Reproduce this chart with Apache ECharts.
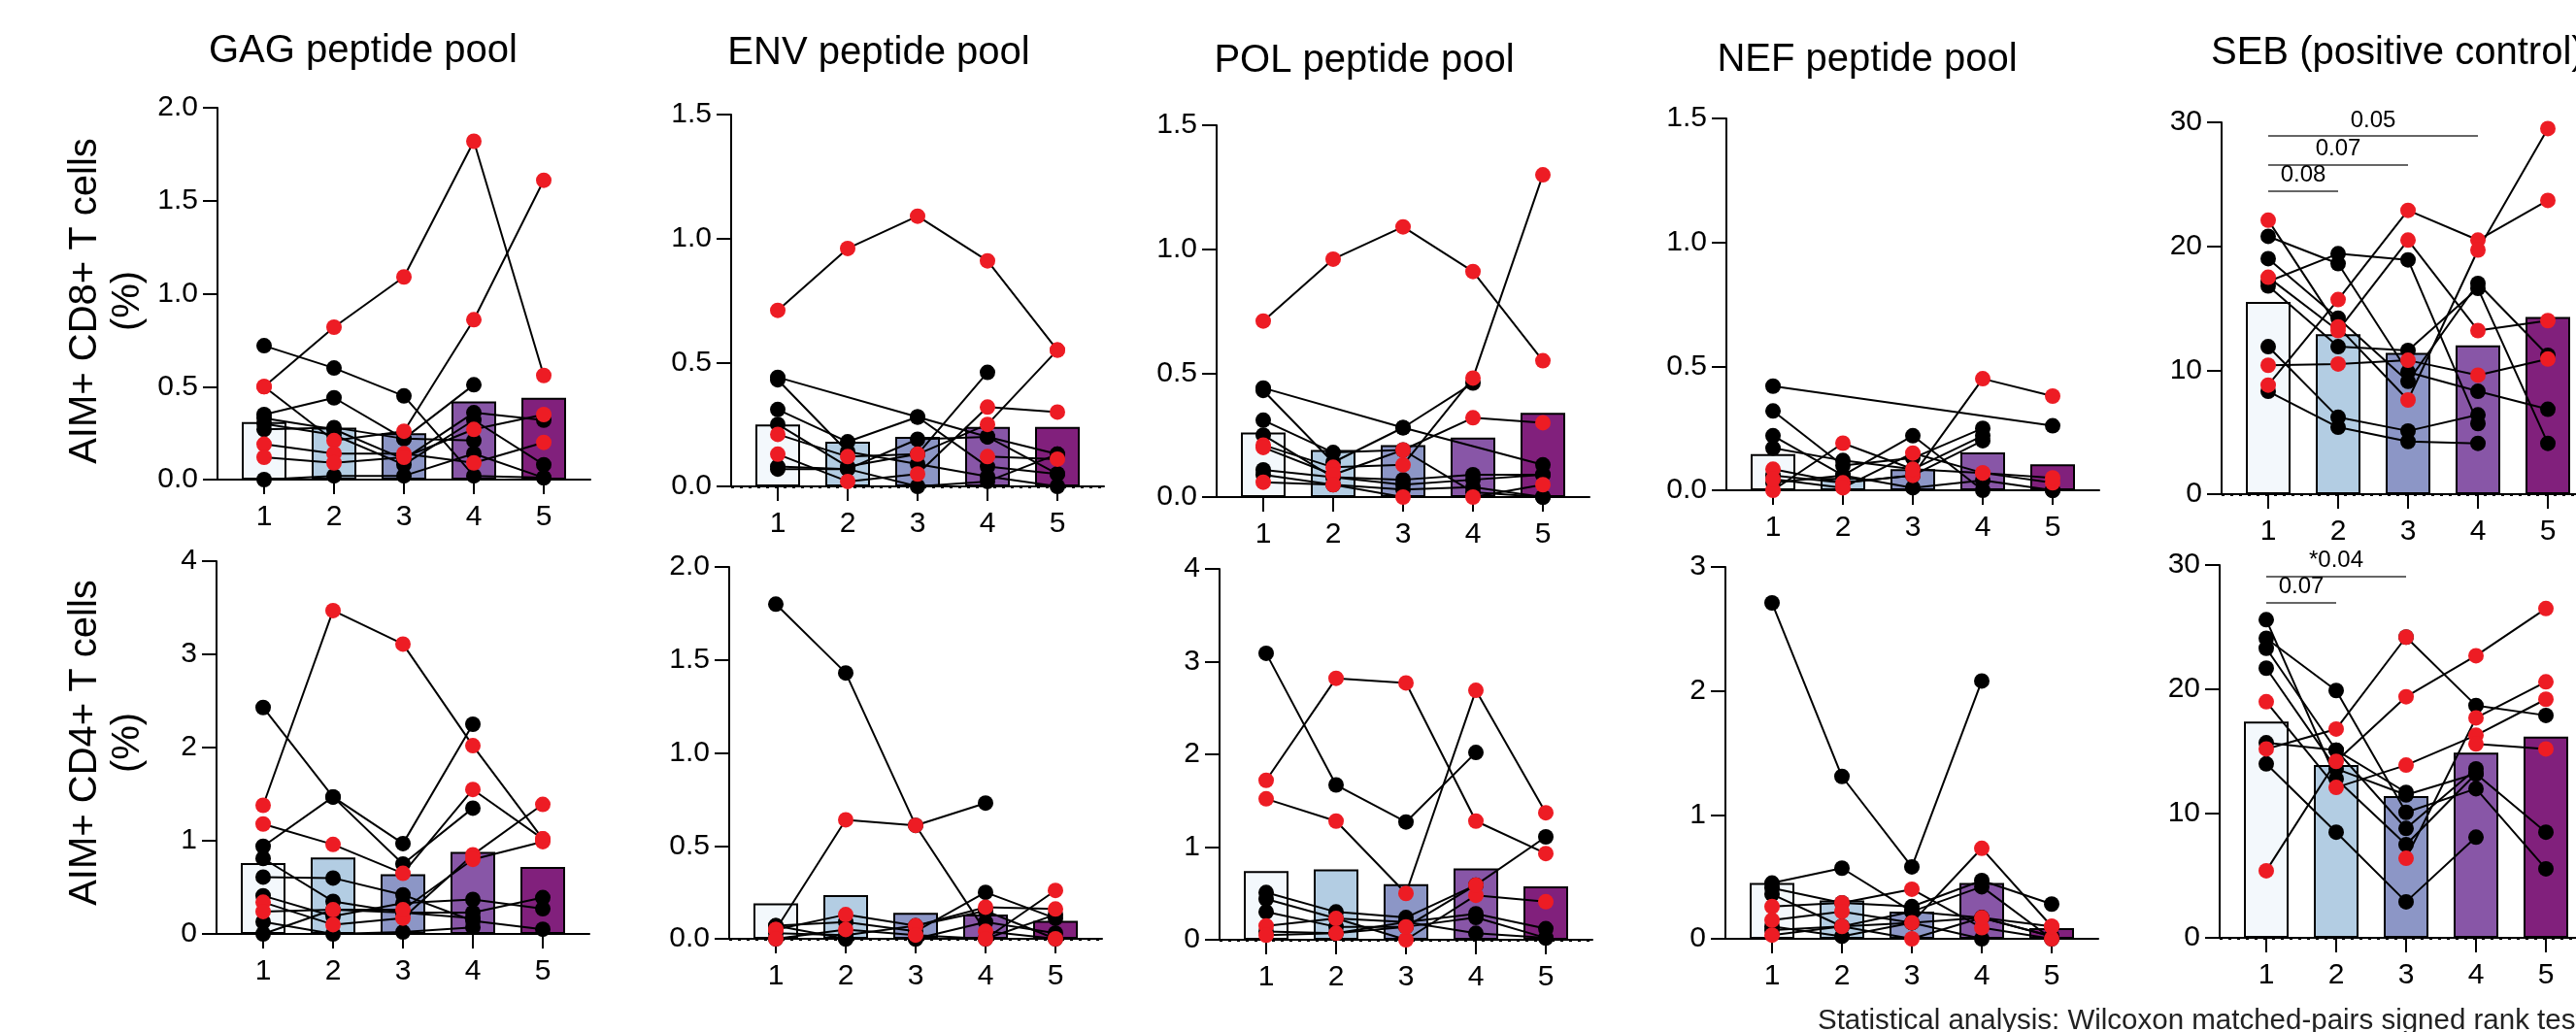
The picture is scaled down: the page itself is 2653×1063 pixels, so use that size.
<!DOCTYPE html>
<html>
<head>
<meta charset="utf-8">
<title>AIM+ T cells by peptide pool</title>
<script src="https://cdn.jsdelivr.net/npm/echarts@6/dist/echarts.min.js"></script>
<style>
  html, body { margin: 0; padding: 0; background: #fff; }
  #chart { width: 2653px; height: 1063px; }
</style>
</head>
<body>
<div id="chart"></div>
<script>
// ---- data ----
const categories = [1, 2, 3, 4, 5];
const panelTitles = ['GAG peptide pool', 'ENV peptide pool', 'POL peptide pool', 'NEF peptide pool', 'SEB (positive control)'];
const rowLabels = ['AIM+ CD8+ T cells\n(%)', 'AIM+ CD4+ T cells\n(%)'];
const footnote = 'Statistical analysis: Wilcoxon matched-pairs signed rank test';

// CD8 row
const gagCD8Bars = [0.31, 0.28, 0.25, 0.42, 0.44];
const gagCD8Red = [
  [0.50, 0.82, 1.09, 1.82, 0.56],
  [0.50, 0.21, 0.26, 0.86, 1.61],
  [0.19, 0.14, 0.14, 0.09, 0.20],
  [0.12, 0.09, 0.12, 0.27, 0.35]
];
const gagCD8Black = [
  [0.72, 0.60, 0.45, 0.02, 0.01],
  [0.35, 0.44, 0.22, 0.51, null],
  [0.33, 0.27, 0.11, 0.36, 0.32],
  [0.30, 0.24, 0.08, 0.32, 0.08],
  [0.27, 0.28, 0.22, 0.21, null],
  [0.00, 0.02, 0.02, 0.14, 0.01]
];

const envCD8Bars = [0.25, 0.18, 0.20, 0.24, 0.24];
const envCD8Red = [
  [0.71, 0.96, 1.09, 0.91, 0.55],
  [0.21, 0.12, 0.13, 0.25, 0.55],
  [0.13, 0.02, 0.05, 0.32, 0.30],
  [null, null, null, 0.12, 0.11]
];
const envCD8Black = [
  [0.44, null, 0.28, 0.20, 0.13],
  [0.43, 0.14, 0.09, 0.04, 0.00],
  [0.31, 0.18, 0.28, 0.08, 0.05],
  [0.25, 0.08, 0.13, 0.46, null],
  [0.08, 0.07, 0.19, 0.20, 0.05],
  [0.07, 0.07, 0.00, 0.02, 0.13]
];

const polCD8Bars = [0.26, 0.19, 0.21, 0.24, 0.34];
const polCD8Red = [
  [0.71, 0.96, 1.09, 0.91, 0.55],
  [0.21, 0.12, 0.13, 0.48, 1.30],
  [0.20, 0.09, 0.19, 0.32, 0.30],
  [0.06, 0.05, 0.00, 0.00, 0.05]
];
const polCD8Black = [
  [0.44, null, 0.28, null, 0.13],
  [0.43, 0.14, 0.28, 0.46, null],
  [0.31, 0.18, 0.19, 0.02, 0.00],
  [0.25, 0.08, 0.07, 0.09, 0.09],
  [0.11, 0.08, 0.05, 0.07, 0.09],
  [0.09, 0.05, 0.03, 0.04, 0.00]
];

const nefCD8Bars = [0.146, 0.05, 0.085, 0.153, 0.105];
const nefCD8Red = [
  [0.085, 0.03, 0.06, 0.45, 0.38],
  [0.00, 0.19, 0.085, 0.07, 0.03],
  [0.045, 0.01, 0.15, 0.07, 0.05]
];
const nefCD8Black = [
  [0.42, null, null, null, 0.26],
  [0.32, 0.10, 0.13, 0.25, null],
  [0.22, 0.06, 0.22, 0.00, 0.00],
  [0.17, 0.12, 0.085, 0.22, null],
  [0.06, 0.03, 0.06, 0.20, null],
  [0.03, 0.06, 0.01, 0.04, 0.00]
];

const sebCD8Bars = [15.5, 12.9, 11.4, 12.0, 14.3];
const sebCD8Red = [
  [8.8, 15.7, 22.9, 20.5, 23.7],
  [10.4, 10.5, 10.8, 9.6, 10.9],
  [22.1, 13.5, 7.6, 19.7, 29.5],
  [17.5, 13.2, 20.5, 13.2, 14.0]
];
const sebCD8Black = [
  [20.8, 18.6, 9.85, 8.3, 6.85],
  [19.0, 14.2, 9.1, 17.0, 11.2],
  [17.15, 19.4, 18.9, 5.7, null],
  [16.8, 11.9, 11.6, 16.6, 4.1],
  [11.9, 6.2, 5.1, 6.4, null],
  [8.3, 5.4, 4.25, 4.1, null]
];
// [from category, to category, height, p value label]
const sebCD8Brackets = [[1, 4, 28.9, '0.05'], [1, 3, 26.6, '0.07'], [1, 2, 24.45, '0.08']];

// CD4 row
const gagCD4Bars = [0.76, 0.82, 0.64, 0.88, 0.72];
const gagCD4Red = [
  [1.38, 3.47, 3.11, 2.02, 1.02],
  [1.18, 0.96, 0.65, 1.55, 1.02],
  [0.34, 0.10, 0.17, 0.85, 1.39],
  [0.24, 0.26, 0.26, 0.80, 0.99]
];
const gagCD4Black = [
  [2.43, 1.47, 0.75, 1.35, null],
  [0.94, 1.47, 0.97, 2.25, null],
  [0.81, 0.35, 0.23, 0.23, 0.39],
  [0.61, 0.60, 0.42, 0.14, 0.05],
  [0.41, 0.19, 0.33, 0.37, 0.27],
  [0.13, 0.00, 0.02, 0.07, null],
  [0.00, 0.26, 0.23, 0.17, null]
];

const envCD4Bars = [0.19, 0.235, 0.14, 0.13, 0.096];
const envCD4Red = [
  [0.05, 0.64, 0.61, 0.04, 0.00],
  [0.05, 0.13, 0.07, 0.17, 0.16],
  [0.00, 0.05, 0.02, 0.00, 0.26]
];
const envCD4Black = [
  [1.80, 1.43, 0.61, 0.73, null],
  [0.07, 0.09, 0.04, 0.25, 0.11],
  [0.00, 0.00, 0.00, 0.09, 0.03],
  [0.03, 0.02, 0.07, 0.15, 0.00],
  [0.07, 0.00, 0.00, 0.00, 0.13]
];

const polCD4Bars = [0.74, 0.76, 0.60, 0.77, 0.575];
const polCD4Red = [
  [1.72, 2.82, 2.77, 1.28, 0.93],
  [1.52, 1.28, 0.50, 2.69, 1.37],
  [0.15, 0.23, 0.00, 0.48, 0.41],
  [0.05, 0.07, 0.14, 0.59, null]
];
const polCD4Black = [
  [3.09, 1.67, 1.27, 2.02, null],
  [0.51, 0.30, 0.24, 0.59, 1.11],
  [0.44, 0.23, 0.19, 0.28, 0.12],
  [0.30, 0.14, 0.14, 0.24, 0.02],
  [0.09, 0.07, 0.19, 0.07, 0.02]
];

const nefCD4Bars = [0.45, 0.31, 0.22, 0.45, 0.086];
const nefCD4Red = [
  [0.26, 0.29, 0.40, 0.09, 0.00],
  [0.15, 0.22, 0.13, 0.73, 0.10],
  [0.03, 0.10, 0.00, 0.17, 0.10]
];
const nefCD4Black = [
  [2.71, 1.31, 0.58, 2.08, null],
  [0.45, 0.57, 0.22, 0.42, 0.00],
  [0.41, 0.29, 0.26, 0.47, 0.28],
  [0.36, 0.10, 0.22, 0.17, 0.02],
  [0.10, 0.02, 0.13, 0.00, null],
  [0.07, 0.10, 0.13, 0.17, 0.02]
];

const sebCD4Bars = [17.4, 13.9, 11.4, 14.9, 16.2];
const sebCD4Red = [
  [5.4, 14.2, 19.4, 22.7, 26.5],
  [19.0, 12.1, 13.9, 16.3, 19.2],
  [15.2, 16.8, 24.2, null, null],
  [null, null, 6.4, 17.7, 20.6],
  [null, null, null, 15.6, 15.2]
];
const sebCD4Black = [
  [25.6, 12.8, 7.5, 13.2, 8.5],
  [24.1, 19.9, 10.1, 12.0, 5.55],
  [23.3, 15.1, 8.8, 13.6, null],
  [21.7, 13.6, 11.5, 13.2, null],
  [14.0, 8.5, 2.9, 8.1, null],
  [null, null, 24.2, 18.7, 17.9],
  [15.7, 15.1, 11.7, null, null]
];
const sebCD4Brackets = [[1, 3, 29.1, '*0.04'], [1, 2, 27.0, '0.07']];

// ---- layout ----
const FONT = "'Liberation Sans', Arial, sans-serif";
const RED = '#ED1C24';
const barColors = ['#F3F8FC', '#B3CDE3', '#8C96C6', '#8856A7', '#81207C'];

// per panel: data, y range, tick step, decimals, dotted zero line, brackets
const panels = [
  { bars: gagCD8Bars, red: gagCD8Red, black: gagCD8Black, yMax: 2, step: 0.5, dec: 1, dotted: false },
  { bars: envCD8Bars, red: envCD8Red, black: envCD8Black, yMax: 1.5, step: 0.5, dec: 1, dotted: true },
  { bars: polCD8Bars, red: polCD8Red, black: polCD8Black, yMax: 1.5, step: 0.5, dec: 1, dotted: false },
  { bars: nefCD8Bars, red: nefCD8Red, black: nefCD8Black, yMax: 1.5, step: 0.5, dec: 1, dotted: false },
  { bars: sebCD8Bars, red: sebCD8Red, black: sebCD8Black, yMax: 30, step: 10, dec: 0, dotted: true, brackets: sebCD8Brackets },
  { bars: gagCD4Bars, red: gagCD4Red, black: gagCD4Black, yMax: 4, step: 1, dec: 0, dotted: false },
  { bars: envCD4Bars, red: envCD4Red, black: envCD4Black, yMax: 2, step: 0.5, dec: 1, dotted: true },
  { bars: polCD4Bars, red: polCD4Red, black: polCD4Black, yMax: 4, step: 1, dec: 0, dotted: true },
  { bars: nefCD4Bars, red: nefCD4Red, black: nefCD4Black, yMax: 3, step: 1, dec: 0, dotted: false },
  { bars: sebCD4Bars, red: sebCD4Red, black: sebCD4Black, yMax: 30, step: 10, dec: 0, dotted: true, brackets: sebCD4Brackets }
];
// [left, top, height] of each plot area in px
const gridBoxes = [
  [224, 111, 383], [753, 118, 383], [1253, 129, 383], [1778, 122, 383], [2288, 126, 383],
  [223, 578, 384], [751, 584, 383], [1256, 586, 382], [1777, 584, 383], [2286, 582, 384]
];

const axisLineStyle = { color: '#000', width: 2 };
const grids = [], xAxes = [], yAxes = [], series = [];

const toPoints = vals => vals.map((v, k) => (v == null ? null : [categories[k], v])).filter(Boolean);

panels.forEach((p, i) => {
  const [left, top, height] = gridBoxes[i];
  grids.push({ left, top, width: 384, height, outerBoundsMode: 'none' });

  xAxes.push({
    type: 'value', gridIndex: i, min: 1 / 3, max: 17 / 3,
    axisLine: { show: true, onZero: false, lineStyle: axisLineStyle },
    axisTick: { show: true, customValues: categories, length: 15, lineStyle: axisLineStyle },
    axisLabel: { customValues: categories, fontSize: 30, color: '#000', margin: 24, fontFamily: FONT },
    splitLine: { show: false }
  });
  yAxes.push({
    type: 'value', gridIndex: i, min: 0, max: p.yMax, interval: p.step,
    axisLine: { show: true, lineStyle: axisLineStyle },
    axisTick: { show: true, length: 15, lineStyle: axisLineStyle },
    axisLabel: { fontSize: 30, color: '#000', margin: 20, fontFamily: FONT, formatter: v => v.toFixed(p.dec) },
    splitLine: { show: false }
  });

  const markData = [];
  if (p.dotted) {
    markData.push({ yAxis: 0, lineStyle: { type: [3, 6], width: 3, color: '#000' }, label: { show: false } });
  }
  (p.brackets || []).forEach(([a, b, h, txt]) => {
    markData.push([
      { coord: [a, h], lineStyle: { type: 'solid', width: 1.5, color: '#333' },
        label: { show: true, formatter: txt, position: 'insideMiddleTop', distance: 4, fontSize: 24, color: '#000', fontFamily: FONT } },
      { coord: [b, h] }
    ]);
  });

  series.push({
    type: 'bar', xAxisIndex: i, yAxisIndex: i, barWidth: 46, z: 1, silent: true,
    data: p.bars.map((v, k) => ({ value: [categories[k], v], itemStyle: { color: barColors[k] } })),
    itemStyle: { borderColor: '#000', borderWidth: 2 },
    markLine: markData.length ? { silent: true, symbol: ['none', 'none'], data: markData } : undefined
  });

  p.black.concat(p.red).forEach(vals => {
    series.push({
      type: 'line', xAxisIndex: i, yAxisIndex: i, data: toPoints(vals), symbol: 'none', z: 3, silent: true,
      lineStyle: { color: '#000', width: 2 }
    });
  });
  series.push({
    type: 'scatter', xAxisIndex: i, yAxisIndex: i, symbolSize: 16, z: 4, silent: true,
    itemStyle: { color: '#000', opacity: 1 },
    data: [].concat(...p.black.map(toPoints))
  });
  series.push({
    type: 'scatter', xAxisIndex: i, yAxisIndex: i, symbolSize: 16, z: 5, silent: true,
    itemStyle: { color: RED, opacity: 1 },
    data: [].concat(...p.red.map(toPoints))
  });
});

// titles, row labels and footnote
const titlePos = [[374, 53, 'center'], [905, 55, 'center'], [1405, 63, 'center'], [1923, 62, 'center'], [2277, 55, 'left']];
const graphics = [];
panelTitles.forEach((t, k) => {
  const [x, y, al] = titlePos[k];
  graphics.push({ type: 'text', x, y, silent: true,
    style: { text: t, fontSize: 40, fontFamily: FONT, fill: '#000', textAlign: al, align: al, textVerticalAlign: 'middle', verticalAlign: 'middle' } });
});
[[110, 310], [110, 765]].forEach(([x, y], k) => {
  graphics.push({ type: 'text', x, y, rotation: Math.PI / 2, silent: true,
    style: { text: rowLabels[k], fontSize: 40, lineHeight: 44, fontFamily: FONT, fill: '#000',
      textAlign: 'center', align: 'center', textVerticalAlign: 'middle', verticalAlign: 'middle' } });
});
graphics.push({ type: 'text', x: 1872, y: 1052, silent: true,
  style: { text: footnote, fontSize: 29.5, fontFamily: FONT, fill: '#222', textAlign: 'left', align: 'left', textVerticalAlign: 'middle', verticalAlign: 'middle' } });

const chart = echarts.init(document.getElementById('chart'), null, { renderer: 'canvas' });
chart.setOption({
  animation: false,
  backgroundColor: '#fff',
  textStyle: { fontFamily: FONT },
  grid: grids,
  xAxis: xAxes,
  yAxis: yAxes,
  series,
  graphic: graphics
});
</script>
</body>
</html>
